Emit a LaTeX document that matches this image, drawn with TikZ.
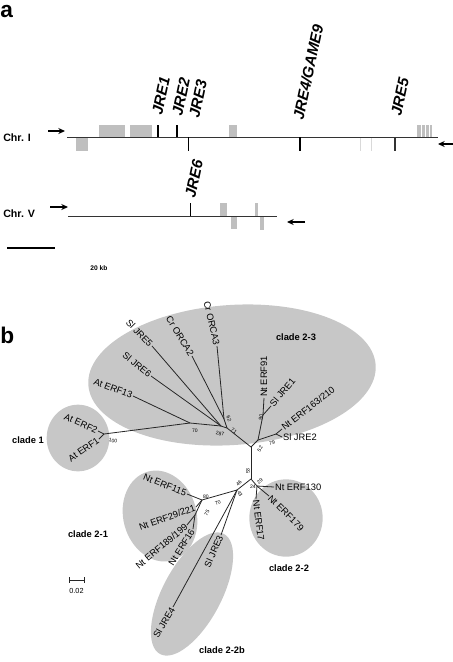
\documentclass[tikz,border=0pt]{standalone}
\usepackage{fontspec}
\setmainfont{Liberation Sans}
\usetikzlibrary{arrows.meta}
\tikzset{
  panel/.style={font=\bfseries\fontsize{17}{18}\selectfont, inner sep=0},
  chr/.style={font=\bfseries\fontsize{8}{9}\selectfont, inner sep=0},
  jre/.style={font=\bfseries\itshape\fontsize{11.5}{12}\selectfont, inner sep=0, rotate=78, anchor=west},
  chrline/.style={draw=black!80, line width=0.7pt},
  gene/.style={fill=black!25, draw=none},
  genelight/.style={fill=black!15, draw=none},
  tickmark/.style={draw=black, line width=1.1pt},
  arr/.style={draw=black, line width=0.8pt, -{Stealth[length=5pt,width=4.5pt]}},
  leaf/.style={font=\fontsize{7}{8}\selectfont, inner sep=0.6pt},
  supp/.style={font=\fontsize{3.8}{4}\selectfont, inner sep=0},
  clade/.style={font=\bfseries\fontsize{7}{8}\selectfont, inner sep=0},
  br/.style={draw=black!85, line width=0.6pt},
  cladefill/.style={fill=black!22, draw=none},
}
\begin{document}
\begin{tikzpicture}[x=0.75pt,y=-0.75pt]
\useasboundingbox (0,0) rectangle (453,662);

% ---------------- panel a ----------------
\node[panel, anchor=base west] (la) at (0,17) {a};

% Chr. I
\node[chr, anchor=west] (c1) at (3,138) {Chr. I};
\coordinate (c1s) at (67,137);
\coordinate (c1e) at (438,137);
\fill[gene] (76,138) rectangle (88,151);
\fill[gene] (99,125) rectangle (125,137);
\fill[gene] (130,125) rectangle (152,137);
\fill[gene] (229,125) rectangle (237,137);
\fill[gene] (417,125) rectangle (421,137);
\fill[gene] (422,125) rectangle (425,137);
\fill[gene] (426,125) rectangle (428.5,137);
\fill[gene] (429.5,125) rectangle (432,137);
\fill[genelight] (359.5,138) rectangle (361,151);
\fill[genelight] (370.5,138) rectangle (372,151);
\draw[chrline] (c1s) -- (c1e);
\draw[tickmark] (158,125) -- (158,137);
\draw[tickmark] (177,125) -- (177,137);
\draw[tickmark] (188.5,137) -- (188.5,151);
\draw[tickmark] (300,137) -- (300,151);
\draw[black!80, line width=0.9pt] (395,137) -- (395,151);
\coordinate (a1s) at (48,131); \coordinate (a1e) at (65,131);
\draw[arr] (a1s) -- (a1e);
\coordinate (a2s) at (453,144); \coordinate (a2e) at (438,144);
\draw[arr] (a2s) -- (a2e);

\node[jre] (jre1) at (157,115) {JRE1};
\node[jre] (jre2) at (177,116) {JRE2};
\node[jre] (jre3) at (194,118) {JRE3};
\node[jre] (jre4) at (298,120) {JRE4/GAME9};
\node[jre] (jre5) at (396,116) {JRE5};

% Chr. V
\node[chr, anchor=west] (c5) at (3,214) {Chr. V};
\coordinate (c5s) at (68,216);
\coordinate (c5e) at (277,216);
\fill[gene] (220,203) rectangle (227,216);
\fill[gene] (231,216) rectangle (237,229);
\fill[gene] (255,203) rectangle (257.5,216);
\fill[gene] (260,216) rectangle (264,230);
\draw[chrline] (c5s) -- (c5e);
\draw[tickmark] (190.5,203) -- (190.5,216);
\coordinate (a3s) at (50,207); \coordinate (a3e) at (68,207);
\draw[arr] (a3s) -- (a3e);
\coordinate (a4s) at (305,222); \coordinate (a4e) at (287,222);
\draw[arr] (a4s) -- (a4e);
\node[jre] (jre6) at (190,198) {JRE6};

% scale bar
\coordinate (sb1) at (7,248); \coordinate (sb2) at (55,248);
\draw[black, line width=0.9pt] (sb1) -- (sb2);
\node[font=\bfseries\fontsize{5}{6}\selectfont, inner sep=0] (kb) at (99,268) {20 kb};

% ---------------- panel b ----------------
\node[panel, anchor=base west] (lb) at (0,343) {b};

% clade backgrounds
\fill[cladefill, rotate around={4:(232,375)}] (232,375) ellipse [x radius=108pt, y radius=52.5pt];
\fill[cladefill] (78,438) ellipse [x radius=23.5pt, y radius=25pt];
\fill[cladefill, rotate around={15:(160,516)}] (160,516) ellipse [x radius=27.5pt, y radius=34.5pt];
\fill[cladefill] (286,518) ellipse [x radius=27.5pt, y radius=29pt];
\fill[cladefill, rotate around={62:(192,594)}] (192,594) ellipse [x radius=51pt, y radius=22pt];

\node[clade] (cl23) at (296,337) {clade 2-3};
\node[clade] (cl1) at (28,440) {clade 1};
\node[clade] (cl21) at (88,534) {clade 2-1};
\node[clade] (cl22) at (289,568) {clade 2-2};
\node[clade] (cl22b) at (222,650) {clade 2-2b};

% junctions
\coordinate (T) at (251,447);
\coordinate (B) at (251,479);
\coordinate (F1) at (104,434);
\coordinate (N70) at (190,423);
\coordinate (N287) at (221,426);
\coordinate (N62) at (224,419);
\coordinate (N71) at (227,428);
\coordinate (N52) at (258,440);
\coordinate (N90) at (263,415);
\coordinate (N79) at (276,434);
\coordinate (N24) at (257,486);
\coordinate (N46) at (237,490);
\coordinate (Nc) at (202,500);
\coordinate (N75) at (195,515);

% leaf labels
\node[leaf, rotate=-77, anchor=east] (orca3) at (217,346) {Cr ORCA3};
\node[leaf, rotate=-59, anchor=east] (orca2) at (192,356) {Cr ORCA2};
\node[leaf, rotate=-46, anchor=east] (sjre5) at (152,346) {Sl JRE5};
\node[leaf, rotate=-39, anchor=east] (sjre6) at (151,376) {Sl JRE6};
\node[leaf, rotate=-21, anchor=east] (erf13) at (133,396) {At ERF13};
\node[leaf, rotate=-24, anchor=east] (erf2) at (98,431) {At ERF2};
\node[leaf, rotate=35, anchor=east] (erf1) at (99,439) {At ERF1};
\node[leaf, rotate=90, anchor=west] (erf91) at (264,398) {Nt ERF91};
\node[leaf, rotate=50, anchor=west] (sjre1) at (271,406) {Sl JRE1};
\node[leaf, rotate=38, anchor=west] (erf163) at (282,429) {Nt ERF163/210};
\node[leaf, anchor=west] (sjre2) at (282,437) {Sl JRE2};
\node[leaf, anchor=west] (erf130) at (274,487) {Nt ERF130};
\node[leaf, rotate=-45, anchor=west] (erf179) at (269,496) {Nt ERF179};
\node[leaf, rotate=-83, anchor=west] (erf17) at (256,499) {Nt ERF17};
\node[leaf, rotate=-22, anchor=east] (erf115) at (187,494) {Nt ERF115};
\node[leaf, rotate=20, anchor=east] (erf29) at (196,507) {Nt ERF29/221};
\node[leaf, rotate=40, anchor=east] (erf189) at (187,525) {Nt ERF189/199};
\node[leaf, rotate=58, anchor=east] (erf16) at (193,529) {Nt ERF16};
\node[leaf, rotate=66, anchor=east] (sjre3) at (221,535) {Sl JRE3};
\node[leaf, rotate=60, anchor=east] (sjre4) at (173,607) {Sl JRE4};

% branches
\draw[br] (erf2.east) -- (F1);
\draw[br] (erf1.east) -- (F1);
\draw[br] (F1) -- (N70);
\draw[br] (erf13.east) -- (N70);
\draw[br] (N70) -- (N287);
\draw[br] (sjre6.east) -- (N287);
\draw[br] (sjre5.east) -- (N287);
\draw[br] (N287) -- (N71);
\draw[br] (orca3.east) -- (N62);
\draw[br] (orca2.east) -- (N62);
\draw[br] (N62) -- (N71);
\draw[br] (N71) -- (T);
\draw[br] (T) -- (N52);
\draw[br] (N52) -- (N90);
\draw[br] (N90) -- (erf91.west);
\draw[br] (N90) -- (sjre1.west);
\draw[br] (N52) -- (N79);
\draw[br] (N79) -- (erf163.west);
\draw[br] (N79) -- (sjre2.west);
\draw[br] (T) -- (B);
\draw[br] (B) -- (N24);
\draw[br] (N24) -- (erf130.west);
\draw[br] (N24) -- (erf179.west);
\draw[br] (N24) -- (erf17.west);
\draw[br] (B) -- (N46);
\draw[br] (N46) -- (Nc);
\draw[br] (Nc) -- (erf115.east);
\draw[br] (Nc) -- (erf29.east);
\draw[br] (Nc) -- (N75);
\draw[br] (N75) -- (erf189.east);
\draw[br] (N75) -- (erf16.east);
\draw[br] (N46) -- (sjre3.east);
\draw[br] (N46) -- (sjre4.east);

% support values
\node[supp, rotate=-10] (s100) at (113,441) {100};
\node[supp] (s70a) at (195,431) {70};
\node[supp, rotate=-10] (s287) at (220,434) {287};
\node[supp, rotate=-35] (s71) at (234,431) {71};
\node[supp, rotate=-70] (s62) at (229,419) {62};
\node[supp, rotate=80] (s90) at (261,417) {90};
\node[supp, rotate=60] (s52) at (260,449) {52};
\node[supp, rotate=10] (s79) at (272,443) {79};
\node[supp, rotate=90] (s53) at (248,471) {53};
\node[supp, rotate=45] (s46) at (239,483) {46};
\node[supp, rotate=-60] (s43) at (240,494) {43};
\node[supp] (s80) at (206,497) {80};
\node[supp, rotate=25] (s70b) at (218,503) {70};
\node[supp, rotate=60] (s75) at (207,513) {75};
\node[supp, rotate=40] (s29) at (260,481) {29};
\node[supp] (s24) at (253,487) {24};

% tree scale
\coordinate (ts1) at (69,580); \coordinate (ts2) at (84,580);
\draw[black!85, line width=0.6pt] (ts1) -- (ts2);
\draw[black!85, line width=0.6pt] ([yshift=-2pt]ts1) -- ([yshift=2pt]ts1);
\draw[black!85, line width=0.6pt] ([yshift=-2pt]ts2) -- ([yshift=2pt]ts2);
\node[font=\fontsize{5.5}{6}\selectfont, inner sep=0] (tsl) at (76.5,591) {0.02};
\end{tikzpicture}
\end{document}
